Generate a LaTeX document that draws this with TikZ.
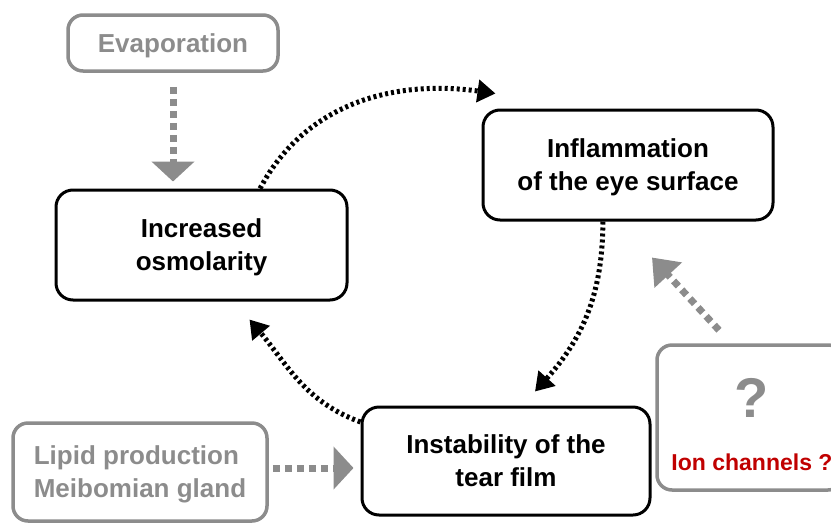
\documentclass[tikz,border=0pt]{standalone}
\usepackage{fontspec}
\setmainfont{Liberation Sans}
\usetikzlibrary{positioning,arrows.meta}
\definecolor{boxgray}{HTML}{8C8C8C}
\definecolor{ionred}{HTML}{C00000}

\begin{document}
\begin{tikzpicture}[x=1pt, y=1pt,
    mainbox/.style={draw, line width=3pt, rounded corners=17pt, align=center, text depth=0pt,
        font=\fontsize{26}{33}\selectfont\bfseries},
    sidebox/.style={draw=boxgray, text=boxgray, line width=3.5pt, rounded corners=15pt, text depth=0pt,
        font=\fontsize{26}{33}\selectfont\bfseries},
    cyclearrow/.style={line width=5pt, dash pattern=on 3pt off 3pt,
        -{Triangle[length=18pt, width=22pt]}},
    grayarrow/.style={draw=boxgray, line width=7pt, dash pattern=on 7pt off 5pt,
        -{Triangle[length=20pt, width=42pt, fill=boxgray]}}]

    \useasboundingbox (0,0) rectangle (831,-523);

    \node[mainbox, minimum width=291pt, minimum height=110pt] (osm) at (201.5,-245) {Increased\\osmolarity};
    \node[mainbox, minimum width=290pt, minimum height=110pt] (infl) at (628,-165) {Inflammation\\of the eye surface};
    \node[mainbox, minimum width=288pt, minimum height=108pt] (inst) at (506,-461) {Instability of the\\tear film};

    \node[sidebox, minimum width=210pt, minimum height=56pt] (evap) at (173,-43) {Evaporation};
    \node[sidebox, minimum width=254pt, minimum height=98pt, align=left] (lipid) at (140,-472) {Lipid production\\Meibomian gland};
    \node[sidebox, minimum width=186pt, minimum height=145pt] (ques) at (750,-417.5) {};

    \node[text=boxgray, font=\fontsize{56}{60}\selectfont\bfseries] (qmark) at (752,-398) {?};
    \node[text=ionred, font=\fontsize{23}{28}\selectfont\bfseries] (ion) at ([yshift=-64pt]qmark.center) {Ion channels ?};

    
    \draw[cyclearrow] (osm.44) to[out=62, in=172] ([shift={(14pt,15pt)}]infl.north west);
    \draw[cyclearrow] (infl.-114) to[out=-90, in=48] ([shift={(29pt,14pt)}]inst.north);
    \draw[cyclearrow] (inst.165) to[out=160, in=-50] ([shift={(48pt,-18pt)}]osm.south);

    
    \draw[grayarrow, shorten <=14pt, shorten >=7pt] (evap.south) -- (evap.south |- osm.north);
    \draw[grayarrow, shorten <=4pt, shorten >=7pt] ([yshift=4pt]lipid.east) -- ([yshift=4pt]lipid.east -| inst.west);
    \draw[grayarrow, -{Triangle[length=24pt, width=36pt, fill=boxgray]}] ([shift={(-31pt,13pt)}]ques.north) -- ([shift={(24pt,-36pt)}]infl.south);
\end{tikzpicture}
\end{document}
